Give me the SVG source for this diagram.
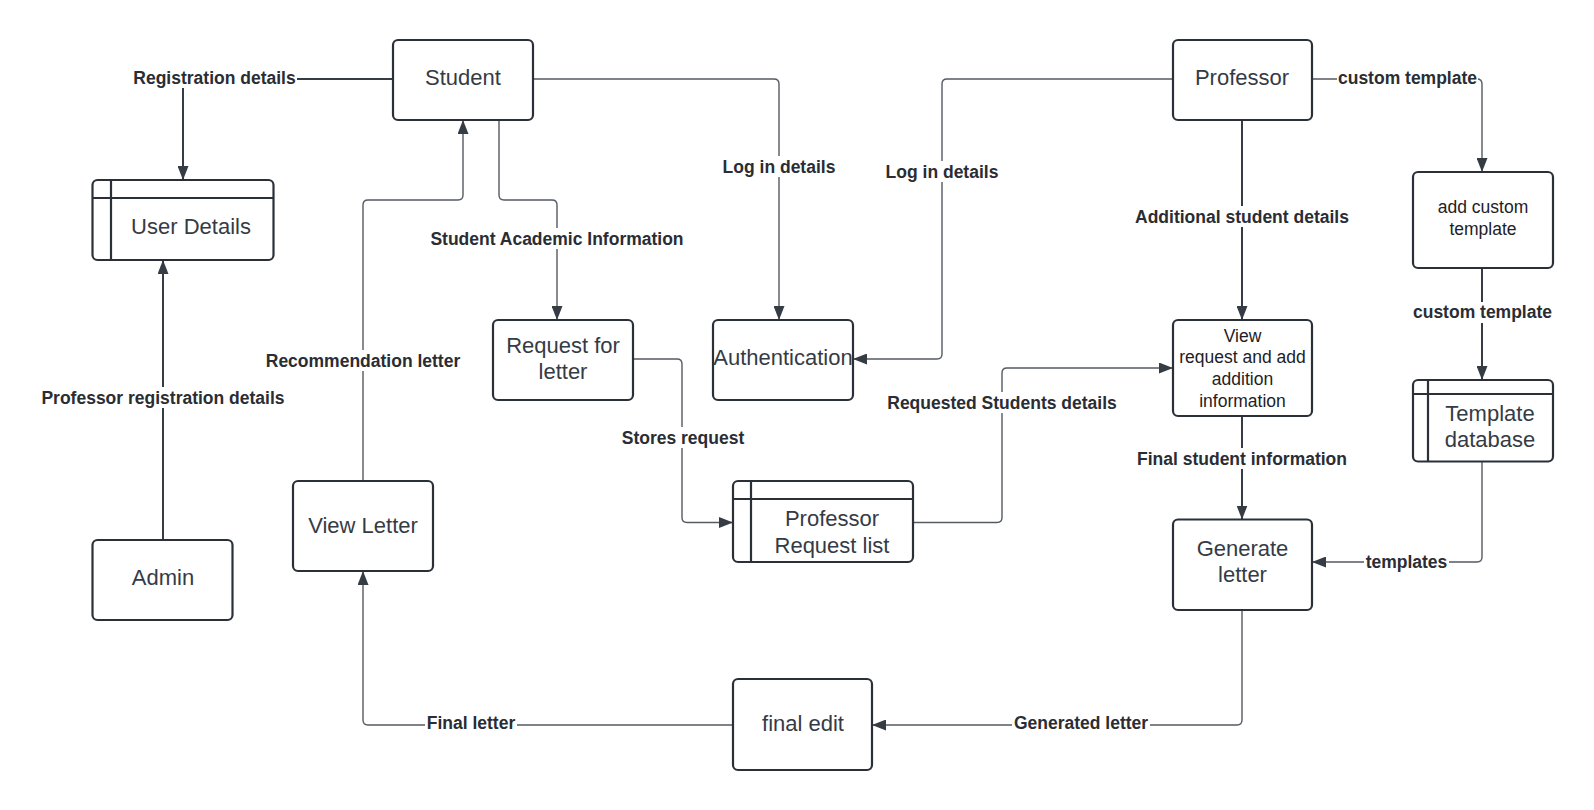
<svg xmlns="http://www.w3.org/2000/svg" width="1594" height="810" viewBox="0 0 1594 810">
<defs>
<style>
.node{fill:#fff;stroke:#2b3038;stroke-width:2.2}
.ln{fill:none;stroke:#2b3038;stroke-width:2.2}
.t{font-family:"Liberation Sans",Arial,sans-serif;font-size:22px;fill:#353b45;text-anchor:middle;dominant-baseline:central}
.ts{font-family:"Liberation Sans",Arial,sans-serif;font-size:17.5px;fill:#1e2126;text-anchor:middle;dominant-baseline:central}
.c{fill:none;stroke:#555b63;stroke-width:1.4}
.ck{fill:none;stroke:#363c44;stroke-width:2}
.lb{font-family:"Liberation Sans",Arial,sans-serif;font-size:17.5px;font-weight:bold;fill:#2a2d33;text-anchor:middle;dominant-baseline:central}
.bg{fill:#fff}
</style>
<marker id="ah" viewBox="0 0 14 11" refX="14" refY="5.5" markerWidth="14" markerHeight="11" markerUnits="userSpaceOnUse" orient="auto">
<path d="M0,0 L14,5.5 L0,11 z" fill="#363c44"/>
</marker>
</defs>
<rect width="1594" height="810" fill="#fff"/>

<g id="connectors">
<path class="ck" d="M393,79 H188 Q183,79 183,84 V180" marker-end="url(#ah)"/>
<path class="c" d="M533,79 H774 Q779,79 779,84 V320" marker-end="url(#ah)"/>
<path class="c" d="M1173,79 H947 Q942,79 942,84 V354 Q942,359 937,359 H853" marker-end="url(#ah)"/>
<path class="c" d="M499,120 V195 Q499,200 504,200 H552 Q557,200 557,205 V320" marker-end="url(#ah)"/>
<path class="c" d="M363,481 V205 Q363,200 368,200 H458 Q463,200 463,195 V120" marker-end="url(#ah)"/>
<path class="ck" d="M163,540 V260" marker-end="url(#ah)"/>
<path class="c" d="M633,359 H677 Q682,359 682,364 V517.5 Q682,522.5 687,522.5 H733" marker-end="url(#ah)"/>
<path class="c" d="M913,522.5 H997 Q1002,522.5 1002,517.5 V373 Q1002,368 1007,368 H1173" marker-end="url(#ah)"/>
<path class="ck" d="M1242,120 V320" marker-end="url(#ah)"/>
<path class="ck" d="M1242,416 V519.5" marker-end="url(#ah)"/>
<path class="c" d="M1312,79 H1477 Q1482,79 1482,84 V172" marker-end="url(#ah)"/>
<path class="ck" d="M1482,268 V380" marker-end="url(#ah)"/>
<path class="c" d="M1482,461.5 V557 Q1482,562 1477,562 H1312" marker-end="url(#ah)"/>
<path class="c" d="M1242,610 V720 Q1242,725 1237,725 H872" marker-end="url(#ah)"/>
<path class="c" d="M733,725 H368 Q363,725 363,720 V571" marker-end="url(#ah)"/>

<rect class="bg" x="132" y="67" width="165" height="21"/>
<text class="lb" x="214.5" y="77.5">Registration details</text>
<rect class="bg" x="721" y="156" width="116" height="21"/>
<text class="lb" x="779" y="166.5">Log in details</text>
<rect class="bg" x="884" y="161" width="116" height="21"/>
<text class="lb" x="942" y="171.5">Log in details</text>
<rect class="bg" x="427" y="228" width="260" height="21"/>
<text class="lb" x="557" y="238.5">Student Academic Information</text>
<rect class="bg" x="264" y="350" width="198" height="21"/>
<text class="lb" x="363" y="361">Recommendation letter</text>
<rect class="bg" x="38" y="387" width="250" height="21"/>
<text class="lb" x="163" y="397.5">Professor registration details</text>
<rect class="bg" x="620" y="427" width="126" height="21"/>
<text class="lb" x="683" y="437.5">Stores request</text>
<rect class="bg" x="885" y="392" width="234" height="21"/>
<text class="lb" x="1002" y="402.5">Requested Students details</text>
<rect class="bg" x="1133" y="206" width="218" height="21"/>
<text class="lb" x="1242" y="216.5">Additional student details</text>
<rect class="bg" x="1134" y="448" width="216" height="21"/>
<text class="lb" x="1242" y="458.5">Final student information</text>
<rect class="bg" x="1337" y="67" width="141" height="21"/>
<text class="lb" x="1407.5" y="77.5">custom template</text>
<rect class="bg" x="1412" y="302" width="141" height="21"/>
<text class="lb" x="1482.5" y="312">custom template</text>
<rect class="bg" x="1364" y="551" width="85" height="21"/>
<text class="lb" x="1406.5" y="561.5">templates</text>
<rect class="bg" x="1012" y="712" width="138" height="21"/>
<text class="lb" x="1081" y="722.5">Generated letter</text>
<rect class="bg" x="425" y="712" width="92" height="21"/>
<text class="lb" x="471" y="722.5">Final letter</text>
</g>

<g id="student">
<rect class="node" x="393" y="40" width="140" height="80" rx="5"/>
<text class="t" x="463" y="77">Student</text>
</g>
<g id="user-details">
<rect class="node" x="92.5" y="180" width="181" height="80" rx="5"/>
<path class="ln" d="M92.5,198 H273.5 M111,180 V260"/>
<text class="t" x="191" y="226">User Details</text>
</g>
<g id="admin">
<rect class="node" x="92.5" y="540" width="140" height="80" rx="5"/>
<text class="t" x="163" y="577">Admin</text>
</g>
<g id="view-letter">
<rect class="node" x="293" y="481" width="140" height="90" rx="5"/>
<text class="t" x="363" y="525">View Letter</text>
</g>
<g id="request-for-letter">
<rect class="node" x="493" y="320" width="140" height="80" rx="5"/>
<text class="t" x="563" y="345">Request for</text>
<text class="t" x="563" y="371">letter</text>
</g>
<g id="authentication">
<rect class="node" x="713" y="320" width="140" height="80" rx="5"/>
<text class="t" x="783" y="357">Authentication</text>
</g>
<g id="professor">
<rect class="node" x="1173" y="40" width="139" height="80" rx="5"/>
<text class="t" x="1242" y="77">Professor</text>
</g>
<g id="add-custom-template">
<rect class="node" x="1413" y="172" width="140" height="96" rx="5"/>
<text class="ts" x="1483" y="207">add custom</text>
<text class="ts" x="1483" y="229">template</text>
</g>
<g id="template-database">
<rect class="node" x="1413" y="380" width="140" height="81.5" rx="5"/>
<path class="ln" d="M1413,394 H1553 M1428,380 V461.5"/>
<text class="t" x="1490" y="413">Template</text>
<text class="t" x="1490" y="439">database</text>
</g>
<g id="view-request">
<rect class="node" x="1173" y="320" width="139" height="96" rx="5"/>
<text class="ts" x="1242.5" y="335.5">View</text>
<text class="ts" x="1242.5" y="357">request and add</text>
<text class="ts" x="1242.5" y="379">addition</text>
<text class="ts" x="1242.5" y="400.5">information</text>
</g>
<g id="generate-letter">
<rect class="node" x="1173" y="519.5" width="139" height="90.5" rx="5"/>
<text class="t" x="1242.5" y="548">Generate</text>
<text class="t" x="1242.5" y="574">letter</text>
</g>
<g id="professor-request-list">
<rect class="node" x="733" y="481" width="180" height="81" rx="5"/>
<path class="ln" d="M733,499 H913 M751,481 V562"/>
<text class="t" x="832" y="518.5">Professor</text>
<text class="t" x="832" y="545">Request list</text>
</g>
<g id="final-edit">
<rect class="node" x="733" y="679" width="139" height="91" rx="5"/>
<text class="t" x="803" y="723">final edit</text>
</g>
</svg>
